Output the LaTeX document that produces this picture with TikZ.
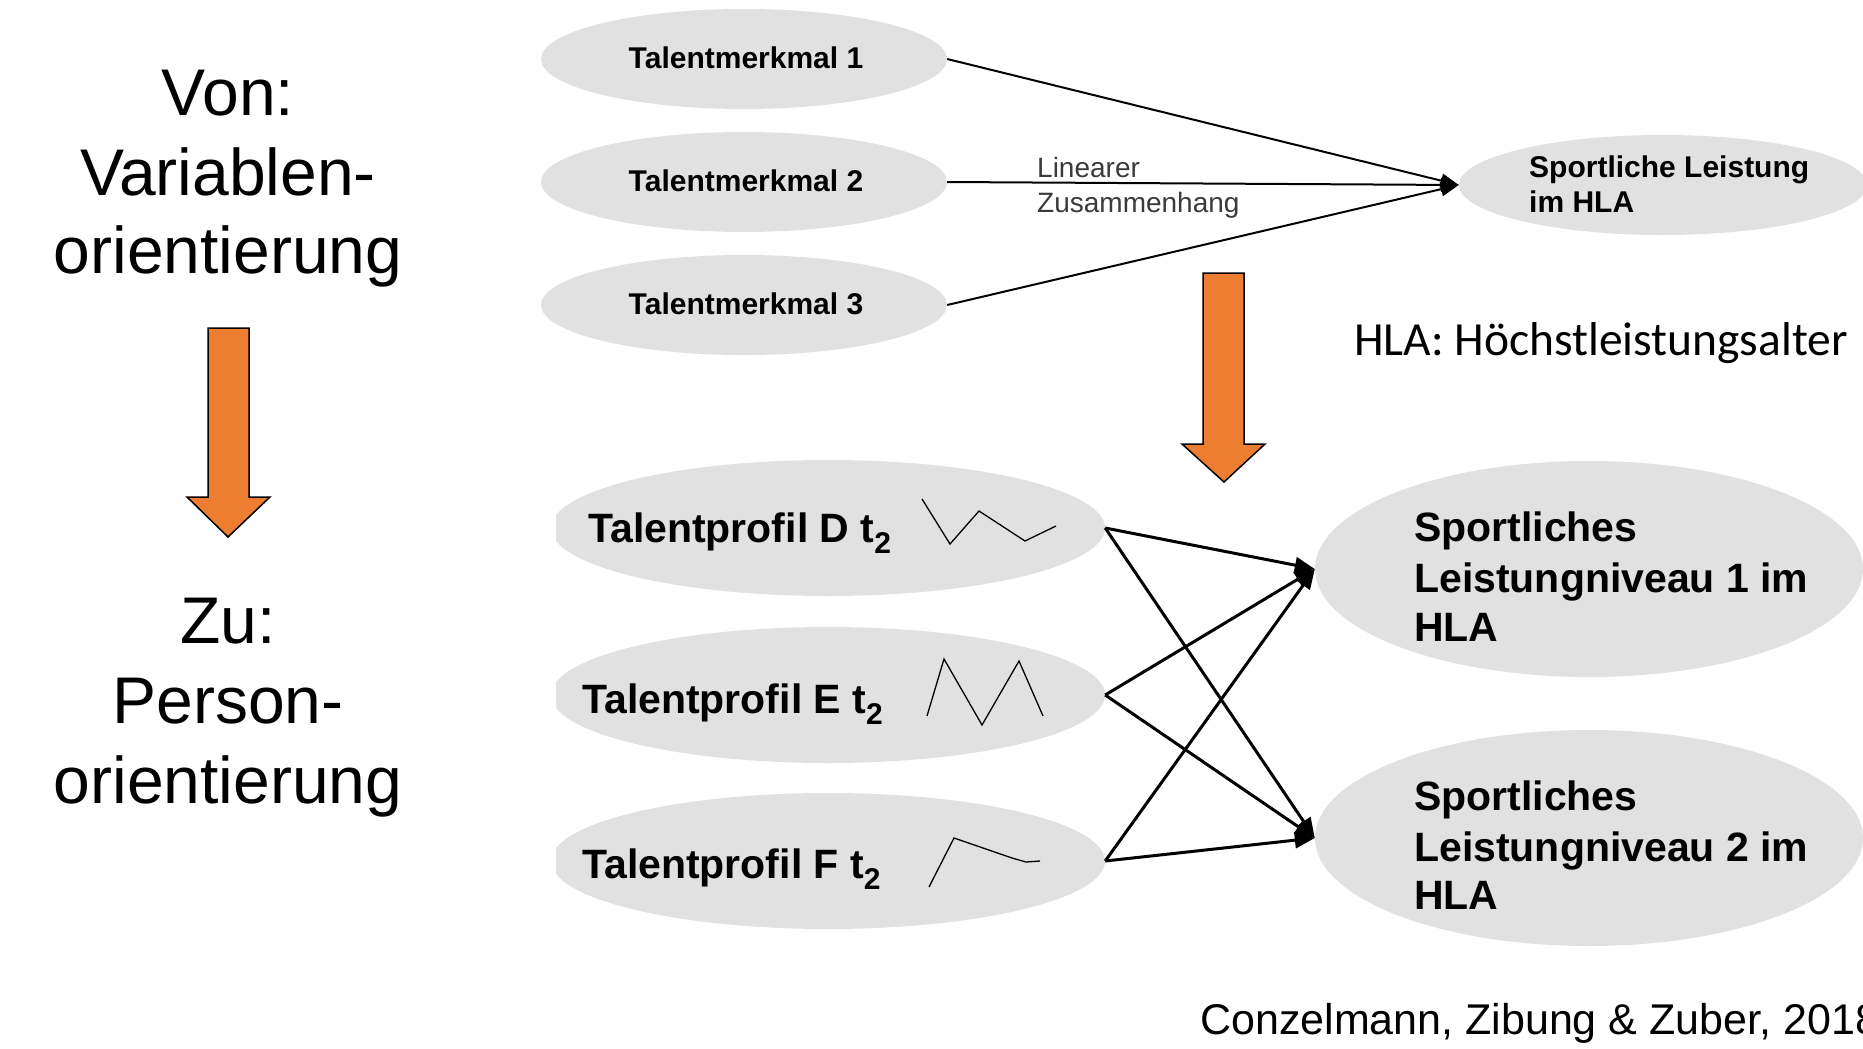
\documentclass[tikz,border=0pt]{standalone}
\usepackage{fontspec}
\setmainfont{Liberation Sans}
\newfontfamily\calib{Carlito}
\usetikzlibrary{shapes.geometric,arrows.meta}
\definecolor{ellgray}{HTML}{E1E1E1}
\definecolor{orng}{HTML}{ED7D31}
\definecolor{lingray}{HTML}{3A3A3A}
\begin{document}
\begin{tikzpicture}[x=1pt,y=-1pt,
  ell/.style={ellipse,fill=ellgray,draw=none,inner sep=0pt},
  topell/.style={ell,minimum width=406pt,minimum height=100pt},
  botell/.style={ell,minimum width=554pt,minimum height=136pt},
  resell/.style={ell,minimum width=548pt,minimum height=216pt},
  toptxt/.style={font=\fontsize{30}{32}\selectfont\bfseries,inner sep=0pt,anchor=base},
  bottxt/.style={font=\fontsize{41}{50}\selectfont\bfseries,inner sep=0pt,anchor=base west},
  bigtxt/.style={font=\fontsize{66}{80}\selectfont,inner sep=0pt,anchor=base},
  smalltxt/.style={font=\fontsize{28}{32}\selectfont,text=lingray,inner sep=0pt,anchor=base west},
  toparrow/.style={line width=2pt,-{Triangle[length=18pt,width=14pt]}},
  botarrow/.style={line width=3pt,-{Triangle[length=20pt,width=16pt]}},
  zig/.style={line width=1.3pt,line join=miter},
  blockarrow/.style={fill=orng,draw=black,line width=1.5pt}
]
\useasboundingbox (0,0) rectangle (1863,1049);

% left column
\node[bigtxt] (von) at (228,115) {Von:};
\node[bigtxt] (var) at (228,195) {Variablen-};
\node[bigtxt] (or1) at (228,273) {orientierung};
\draw[blockarrow] (208,328) -- (249,328) -- (249,497) -- (270,497) -- (228,537) -- (187,497) -- (208,497) -- cycle;
\node[bigtxt] (zu) at (228,643) {Zu:};
\node[bigtxt] (per) at (228,723) {Person-};
\node[bigtxt] (or2) at (228,803) {orientierung};

% top diagram
\node[topell] (tm1) at (744,59) {};
\node[topell] (tm2) at (744,182) {};
\node[topell] (tm3) at (744,305) {};
\node[ell,minimum width=408pt,minimum height=100pt] (sl) at (1663,185) {};
\node[toptxt] (tm1t) at (746,68) {Talentmerkmal 1};
\node[toptxt] (tm2t) at (746,191) {Talentmerkmal 2};
\node[toptxt] (tm3t) at (746,314) {Talentmerkmal 3};
\node[toptxt,anchor=base west,align=left] (slt1) at (1529,177) {Sportliche Leistung};
\node[toptxt,anchor=base west,align=left] (slt2) at (1529,212) {im HLA};
\draw[toparrow] (tm1.east) -- (sl.west);
\draw[toparrow] (tm2.east) -- (sl.west);
\draw[toparrow] (tm3.east) -- (sl.west);
\node[smalltxt] (lin) at (1037,177) {Linearer};
\node[smalltxt] (zus) at (1037,212) {Zusammenhang};

% middle orange arrow
\draw[blockarrow] (1203,273) -- (1244,273) -- (1244,444) -- (1265,444) -- (1224,482) -- (1182,444) -- (1203,444) -- cycle;
\node[font=\calib\fontsize{47.5}{50}\selectfont,inner sep=0pt,anchor=base west] (hla) at (1354,355) {HLA: Höchstleistungsalter};

% bottom diagram
\begin{scope}
\clip (556,0) rectangle (1863,1049);
\node[botell] (pd) at (828,528) {};
\node[botell] (pe) at (828,695) {};
\node[botell] (pf) at (828,861) {};
\end{scope}
\node[resell] (s1) at (1589,569) {};
\node[resell] (s2) at (1589,838) {};

\node[bottxt] (pdt) at (588,542) {Talentprofil D t\raisebox{-0.28em}{\fontsize{30}{30}\selectfont 2}};
\node[bottxt] (pet) at (582,713) {Talentprofil E t\raisebox{-0.28em}{\fontsize{30}{30}\selectfont 2}};
\node[bottxt] (pft) at (582,878) {Talentprofil F t\raisebox{-0.28em}{\fontsize{30}{30}\selectfont 2}};

\draw[zig] (922,499) -- (950,544) -- (979,511) -- (1025,541) -- (1056,526);
\draw[zig] (927,716) -- (944,659) -- (982,725) -- (1019,661) -- (1043,716);
\draw[zig] (929,887) -- (954,838) -- (1012,858) -- (1026,862) -- (1040,861);

\node[bottxt] (s1a) at (1414,541) {Sportliches};
\node[bottxt] (s1b) at (1414,592) {Leistungniveau 1 im};
\node[bottxt] (s1c) at (1414,641) {HLA};
\node[bottxt] (s2a) at (1414,810) {Sportliches};
\node[bottxt] (s2b) at (1414,861) {Leistungniveau 2 im};
\node[bottxt] (s2c) at (1414,909) {HLA};

\draw[botarrow] (pd.east) -- (s1.west);
\draw[botarrow] (pd.east) -- (s2.west);
\draw[botarrow] (pe.east) -- (s1.west);
\draw[botarrow] (pe.east) -- (s2.west);
\draw[botarrow] (pf.east) -- (s1.west);
\draw[botarrow] (pf.east) -- (s2.west);

\node[font=\fontsize{43}{48}\selectfont,inner sep=0pt,anchor=base west] (cite) at (1200,1034) {Conzelmann, Zibung \& Zuber, 2018};
\end{tikzpicture}
\end{document}
